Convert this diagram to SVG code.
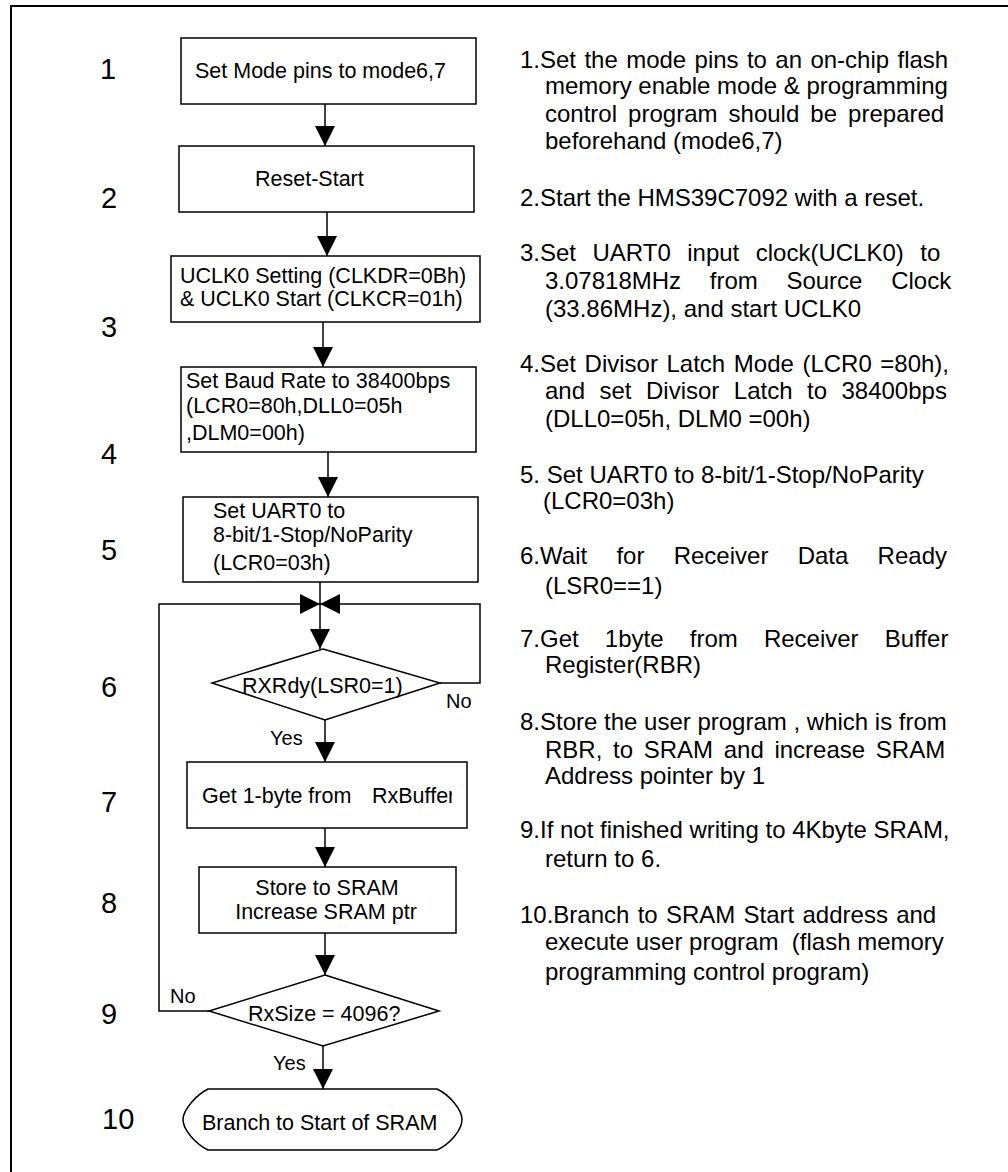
<svg xmlns="http://www.w3.org/2000/svg" width="1008" height="1172" viewBox="0 0 1008 1172">
<style>
  text { font-family: "Liberation Sans", Arial, sans-serif; fill: #000; }
  .num { font-size: 29px; }
  .bt { font-size: 21.5px; }
  .yn { font-size: 20px; }
  .rt { font-size: 24px; white-space: pre; }
  .shape { fill: #fff; stroke: #000; stroke-width: 1.5; }
  .conn { fill: none; stroke: #000; stroke-width: 1.5; marker-end: url(#ah); }
  .line { fill: none; stroke: #000; stroke-width: 1.5; }
</style>
<defs>
  <marker id="ah" viewBox="0 0 10 10" refX="10" refY="5" markerWidth="20" markerHeight="20" markerUnits="userSpaceOnUse" orient="auto">
    <path d="M0,0 L10,5 L0,10 Z" fill="#000"/>
  </marker>
  <clipPath id="clip7"><rect x="187" y="762" width="265" height="66"/></clipPath>
</defs>
<rect width="1008" height="1172" fill="#fff"/>
<path d="M11,1172 V6 H1008" fill="none" stroke="#000" stroke-width="2"/>

<g id="step-numbers">
  <text class="num" x="100" y="79">1</text>
  <text class="num" x="101" y="208">2</text>
  <text class="num" x="101" y="337">3</text>
  <text class="num" x="101" y="464">4</text>
  <text class="num" x="101" y="560">5</text>
  <text class="num" x="101" y="697">6</text>
  <text class="num" x="101" y="812">7</text>
  <text class="num" x="101" y="913">8</text>
  <text class="num" x="101" y="1024">9</text>
  <text class="num" x="102" y="1129">10</text>
</g>

<g id="connectors">
  <path class="conn" d="M325,104 V146"/>
  <path class="conn" d="M327,212 V256"/>
  <path class="conn" d="M323,322 V367"/>
  <path class="conn" d="M328,452 V497"/>
  <path class="conn" d="M320,582 V649"/>
  <path class="conn" d="M440,683 H480 V604 H320"/>
  <path class="conn" d="M209,1011 H159 V604 H320"/>
  <path class="conn" d="M325,720 V762"/>
  <path class="conn" d="M325,828 V867"/>
  <path class="conn" d="M325,933 V975"/>
  <path class="conn" d="M323,1046 V1089"/>
  <text class="yn" x="446" y="708">No</text>
  <text class="yn" x="270" y="745">Yes</text>
  <text class="yn" x="170" y="1003">No</text>
  <text class="yn" x="273" y="1070">Yes</text>
</g>

<g id="node1">
  <rect class="shape" x="181" y="38" width="295" height="66"/>
  <text class="bt" x="195" y="78">Set Mode pins to mode6,7</text>
</g>
<g id="node2">
  <rect class="shape" x="179" y="146" width="295" height="66"/>
  <text class="bt" x="255" y="186">Reset-Start</text>
</g>
<g id="node3">
  <rect class="shape" x="171" y="256" width="309" height="66"/>
  <text class="bt" x="180" y="283">UCLK0 Setting (CLKDR=0Bh)</text>
  <text class="bt" x="180" y="306">&amp; UCLK0 Start (CLKCR=01h)</text>
</g>
<g id="node4">
  <rect class="shape" x="181" y="367" width="295" height="85"/>
  <text class="bt" x="186" y="388">Set Baud Rate to 38400bps</text>
  <text class="bt" x="186" y="413">(LCR0=80h,DLL0=05h</text>
  <text class="bt" x="186" y="440">,DLM0=00h)</text>
</g>
<g id="node5">
  <rect class="shape" x="183" y="497" width="295" height="85"/>
  <text class="bt" x="213" y="518">Set UART0 to</text>
  <text class="bt" x="213" y="542">8-bit/1-Stop/NoParity</text>
  <text class="bt" x="213" y="570">(LCR0=03h)</text>
</g>
<g id="node6">
  <polygon class="shape" points="323,649 440,683 325,720 212,683"/>
  <text class="bt" x="242" y="693">RXRdy(LSR0=1)</text>
</g>
<g id="node7">
  <rect class="shape" x="187" y="762" width="280" height="66"/>
  <text class="bt" x="202" y="803">Get 1-byte from</text>
  <text class="bt" x="372" y="803" clip-path="url(#clip7)">RxBuffer</text>
</g>
<g id="node8">
  <rect class="shape" x="199" y="867" width="257" height="66"/>
  <text class="bt" x="327" y="895" text-anchor="middle">Store to SRAM</text>
  <text class="bt" x="326" y="919" text-anchor="middle">Increase SRAM ptr</text>
</g>
<g id="node9">
  <polygon class="shape" points="325,975 439,1011 323,1046 209,1011"/>
  <text class="bt" x="248" y="1021">RxSize = 4096?</text>
</g>
<g id="node10">
  <path class="shape" d="M208,1089 H437 C450,1095 462,1110 462,1119.5 C462,1130 450,1144 437,1150 H208 C196,1144 183,1130 183,1119.5 C183,1110 196,1095 208,1089 Z"/>
  <text class="bt" x="202" y="1130">Branch to Start of SRAM</text>
</g>

<g id="notes">
  <text class="rt" x="520" y="68" word-spacing="1.7">1.Set the mode pins to an on-chip flash</text>
  <text class="rt" x="545" y="94">memory enable mode &amp; programming</text>
  <text class="rt" x="545" y="122" word-spacing="4.4">control program should be prepared</text>
  <text class="rt" x="545" y="149">beforehand (mode6,7)</text>

  <text class="rt" x="520" y="206">2.Start the HMS39C7092 with a reset.</text>

  <text class="rt" x="520" y="261" word-spacing="9.8">3.Set UART0 input clock(UCLK0) to</text>
  <text class="rt" x="545" y="289" word-spacing="22">3.07818MHz from Source Clock</text>
  <text class="rt" x="545" y="317">(33.86MHz), and start UCLK0</text>

  <text class="rt" x="520" y="372" word-spacing="1.9">4.Set Divisor Latch Mode (LCR0 =80h),</text>
  <text class="rt" x="545" y="399" word-spacing="7.8">and set Divisor Latch to 38400bps</text>
  <text class="rt" x="545" y="427">(DLL0=05h, DLM0 =00h)</text>

  <text class="rt" x="520" y="483">5. Set UART0 to 8-bit/1-Stop/NoParity</text>
  <text class="rt" x="543" y="509">(LCR0=03h)</text>

  <text class="rt" x="520" y="564" word-spacing="22.6">6.Wait for Receiver Data Ready</text>
  <text class="rt" x="545" y="594">(LSR0==1)</text>

  <text class="rt" x="520" y="647" word-spacing="19.5">7.Get 1byte from Receiver Buffer</text>
  <text class="rt" x="545" y="673">Register(RBR)</text>

  <text class="rt" x="520" y="730">8.Store the user program , which is from</text>
  <text class="rt" x="545" y="758" word-spacing="4">RBR, to SRAM and increase SRAM</text>
  <text class="rt" x="545" y="784">Address pointer by 1</text>

  <text class="rt" x="520" y="838">9.If not finished writing to 4Kbyte SRAM,</text>
  <text class="rt" x="545" y="867">return to 6.</text>

  <text class="rt" x="520" y="923" word-spacing="1.6">10.Branch to SRAM Start address and</text>
  <text class="rt" x="545" y="950">execute user program  (flash memory</text>
  <text class="rt" x="545" y="980">programming control program)</text>
</g>
</svg>
